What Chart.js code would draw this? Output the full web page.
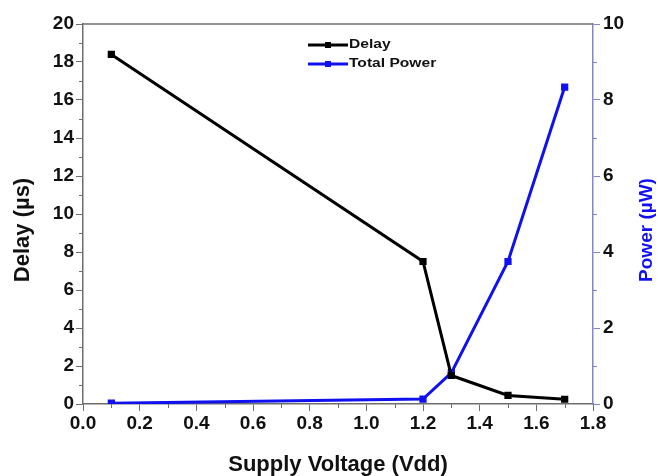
<!DOCTYPE html>
<html>
<head>
<meta charset="utf-8">
<script src="https://cdn.jsdelivr.net/npm/chart.js@4"></script>
<style>
html,body{margin:0;padding:0;background:#fff;}
#wrap{width:659px;height:476px;position:relative;}
</style>
</head>
<body>
<div id="wrap"><canvas id="c" width="659" height="476"></canvas></div>
<script>
const voltages = [0.1, 1.2, 1.3, 1.5, 1.7];
const delayValues = [18.4, 7.5, 1.5, 0.45, 0.25];
const powerValues = [0.02, 0.13, 0.82, 3.75, 8.34];
const xTicks = [0, 0.2, 0.4, 0.6, 0.8, 1.0, 1.2, 1.4, 1.6, 1.8];
const delayTicks = [0, 2, 4, 6, 8, 10, 12, 14, 16, 18, 20];
const powerTicks = [0, 2, 4, 6, 8, 10];
const seriesNames = ['Delay', 'Total Power'];
const axisTitles = ['Supply Voltage (Vdd)', 'Delay (\u00b5s)', 'Power (\u00b5W)'];

const FONT = "'Liberation Sans', Arial, sans-serif";
const AXIS_GRAY = '#6e6e6e';
const RIGHT_AXIS = '#8484d4';
const BLUE = '#1010f0';

const decorations = {
  id: 'decorations',
  afterDraw(chart) {
    const ctx = chart.ctx;
    const a = chart.chartArea;
    ctx.save();
    // top border
    ctx.strokeStyle = AXIS_GRAY;
    ctx.lineWidth = 1.5;
    ctx.beginPath(); ctx.moveTo(a.left, a.top); ctx.lineTo(a.right, a.top); ctx.stroke();
    ctx.lineWidth = 1;
    const x = chart.scales.x, y = chart.scales.y, y2 = chart.scales.y2;
    ctx.strokeStyle = AXIS_GRAY;
    for (let i = 0; i < xTicks.length - 1; i++) {
      const v = (xTicks[i] + xTicks[i + 1]) / 2;
      const px = Math.round(x.getPixelForValue(v)) + 0.5;
      ctx.beginPath(); ctx.moveTo(px, a.bottom); ctx.lineTo(px, a.bottom + 4); ctx.stroke();
    }
    for (let i = 0; i < delayTicks.length - 1; i++) {
      const v = (delayTicks[i] + delayTicks[i + 1]) / 2;
      const py = Math.round(y.getPixelForValue(v)) + 0.5;
      ctx.beginPath(); ctx.moveTo(a.left, py); ctx.lineTo(a.left - 4, py); ctx.stroke();
    }
    ctx.strokeStyle = RIGHT_AXIS;
    for (let i = 0; i < powerTicks.length - 1; i++) {
      const v = (powerTicks[i] + powerTicks[i + 1]) / 2;
      const py = Math.round(y2.getPixelForValue(v)) + 0.5;
      ctx.beginPath(); ctx.moveTo(a.right, py); ctx.lineTo(a.right + 4, py); ctx.stroke();
    }
    // axis titles
    ctx.textAlign = 'center';
    ctx.textBaseline = 'middle';
    ctx.fillStyle = '#111';
    ctx.font = 'bold 22px ' + FONT;
    ctx.fillText(axisTitles[0], (a.left + a.right) / 2, 465);
    ctx.save();
    ctx.translate(23, 230);
    ctx.rotate(-Math.PI / 2);
    ctx.font = 'bold 22px ' + FONT;
    ctx.fillText(axisTitles[1], 0, 0);
    ctx.restore();
    ctx.save();
    ctx.translate(647, 230);
    ctx.rotate(-Math.PI / 2);
    ctx.fillStyle = BLUE;
    ctx.font = 'bold 19px ' + FONT;
    ctx.fillText(axisTitles[2], 0, 0);
    ctx.restore();
    // legend
    const x0 = 308, x1 = 348, ys = [45, 64];
    chart.data.datasets.forEach((ds, i) => {
      const yy = ys[i];
      ctx.strokeStyle = ds.borderColor;
      ctx.lineWidth = 3;
      ctx.beginPath(); ctx.moveTo(x0, yy); ctx.lineTo(x1, yy); ctx.stroke();
      ctx.fillStyle = ds.borderColor;
      ctx.fillRect((x0 + x1) / 2 - 3, yy - 3, 6, 6);
      ctx.save();
      ctx.translate(x1 + 1, yy);
      ctx.scale(1.3, 1);
      ctx.fillStyle = '#111';
      ctx.font = 'bold 12px ' + FONT;
      ctx.textBaseline = 'middle';
      ctx.textAlign = 'left';
      ctx.fillText(ds.label, 0, 0);
      ctx.restore();
    });
    ctx.restore();
  }
};

new Chart(document.getElementById('c'), {
  type: 'line',
  data: {
    datasets: [
      {
        label: seriesNames[0],
        data: voltages.map((v, i) => ({x: v, y: delayValues[i]})),
        borderColor: '#000000',
        backgroundColor: '#000000',
        borderWidth: 3,
        pointStyle: 'rect',
        pointRadius: 3,
        yAxisID: 'y',
        tension: 0
      },
      {
        label: seriesNames[1],
        data: voltages.map((v, i) => ({x: v, y: powerValues[i]})),
        borderColor: BLUE,
        backgroundColor: BLUE,
        borderWidth: 3,
        pointStyle: 'rect',
        pointRadius: 3,
        yAxisID: 'y2',
        tension: 0
      }
    ]
  },
  options: {
    responsive: false,
    animation: false,
    layout: {padding: {top: 24, left: 0, right: 0, bottom: 0}},
    plugins: {legend: {display: false}, tooltip: {enabled: false}},
    scales: {
      x: {
        type: 'linear', min: 0, max: 1.8,
        afterBuildTicks: s => { s.ticks = xTicks.map(v => ({value: v})); },
        afterFit: s => { s.height = 72; },
        ticks: {
          callback: v => v.toFixed(1),
          color: '#111', font: {family: FONT, size: 19, weight: 'bold'}, padding: 1, maxRotation: 0
        },
        grid: {drawOnChartArea: false, drawTicks: true, tickLength: 7, color: AXIS_GRAY, tickColor: AXIS_GRAY},
        border: {color: AXIS_GRAY, width: 1.5}
      },
      y: {
        type: 'linear', position: 'left', min: 0, max: 20,
        afterBuildTicks: s => { s.ticks = delayTicks.map(v => ({value: v})); },
        afterFit: s => { s.width = 83; },
        ticks: {color: '#111', font: {family: FONT, size: 19, weight: 'bold'}, padding: 2},
        grid: {drawOnChartArea: false, drawTicks: true, tickLength: 7, color: AXIS_GRAY, tickColor: AXIS_GRAY},
        border: {color: AXIS_GRAY, width: 1.5}
      },
      y2: {
        type: 'linear', position: 'right', min: 0, max: 10,
        afterBuildTicks: s => { s.ticks = powerTicks.map(v => ({value: v})); },
        afterFit: s => { s.width = 66; },
        ticks: {color: '#111', font: {family: FONT, size: 19, weight: 'bold'}, padding: 3},
        grid: {drawOnChartArea: false, drawTicks: true, tickLength: 7, color: RIGHT_AXIS, tickColor: RIGHT_AXIS},
        border: {color: RIGHT_AXIS, width: 1.5}
      }
    }
  },
  plugins: [decorations]
});
</script>
</body>
</html>
